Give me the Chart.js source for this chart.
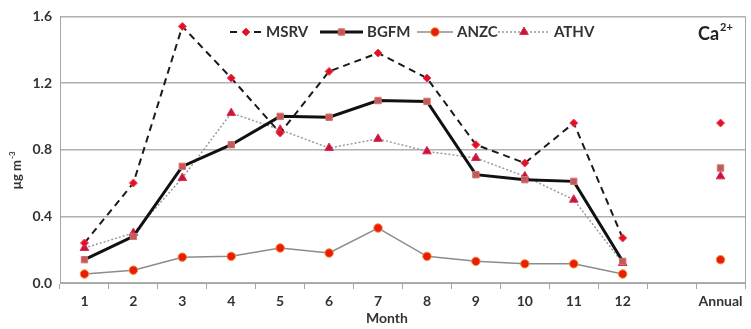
<!DOCTYPE html>
<html>
<head>
<meta charset="utf-8">
<script src="https://cdn.jsdelivr.net/npm/chart.js@4/dist/chart.umd.min.js"></script>
<style>
  html, body { margin: 0; padding: 0; background: #fff; }
  #wrap { width: 751px; height: 329px; }
</style>
</head>
<body>
<div id="wrap"><canvas id="chart" width="751" height="329"></canvas></div>
<script>
// categories (index 12 is an empty slot before "Annual")
const months = ['1', '2', '3', '4', '5', '6', '7', '8', '9', '10', '11', '12', '', 'Annual'];

// Ca2+ concentrations, µg m-3
const msrv = [0.24, 0.60, 1.54, 1.23, 0.90, 1.27, 1.38, 1.23, 0.83, 0.72, 0.96, 0.27, null, 0.96];
const bgfm = [0.14, 0.28, 0.70, 0.83, 1.00, 0.995, 1.095, 1.09, 0.65, 0.62, 0.61, 0.13, null, 0.69];
const anzc = [0.054, 0.077, 0.155, 0.16, 0.21, 0.18, 0.33, 0.16, 0.13, 0.115, 0.115, 0.054, null, 0.14];
const athv = [0.21, 0.30, 0.63, 1.02, 0.92, 0.81, 0.865, 0.79, 0.75, 0.64, 0.50, 0.12, null, 0.64];

const yTicks = [0, 0.4, 0.8, 1.2, 1.6];

const font = "Lato, 'Open Sans', sans-serif";
const textColor = '#333333';

// legend + labels drawn on top of the plot
const decor = {
    id: 'decor',
    afterDraw(chart) {
        const ctx = chart.ctx;
        const area = chart.chartArea;
        ctx.save();

        // right frame line
        ctx.strokeStyle = '#a6a6a6';
        ctx.lineWidth = 1;
        ctx.beginPath();
        ctx.moveTo(area.right + 0.5, area.top);
        ctx.lineTo(area.right + 0.5, area.bottom);
        ctx.stroke();

        // legend
        const y = 32;
        const items = [
            { ds: 0, x1: 230, x2: 262, label: 'MSRV' },
            { ds: 1, x1: 320, x2: 363, label: 'BGFM' },
            { ds: 2, x1: 417, x2: 453, label: 'ANZC' },
            { ds: 3, x1: 498, x2: 550, label: 'ATHV' }
        ];
        items.forEach(it => {
            const ds = chart.data.datasets[it.ds];
            ctx.strokeStyle = ds.borderColor;
            ctx.lineWidth = ds.borderWidth;
            ctx.setLineDash(ds.borderDash || []);
            ctx.beginPath();
            ctx.moveTo(it.x1, y);
            ctx.lineTo(it.x2, y);
            ctx.stroke();
            ctx.setLineDash([]);
            ctx.fillStyle = ds.pointBackgroundColor;
            ctx.strokeStyle = ds.pointBorderColor;
            ctx.lineWidth = ds.pointBorderWidth;
            Chart.helpers.drawPoint(ctx, {
                pointStyle: ds.pointStyle,
                radius: ds.pointRadius,
                rotation: 0,
                borderWidth: ds.pointBorderWidth
            }, (it.x1 + it.x2) / 2, y);
            ctx.fillStyle = textColor;
            ctx.font = 'bold 15px ' + font;
            ctx.textAlign = 'left';
            ctx.textBaseline = 'middle';
            ctx.fillText(it.label, it.x2 + 4, y);
        });

        // Ca2+ label
        ctx.fillStyle = '#222';
        ctx.textAlign = 'left';
        ctx.font = 'bold 18px ' + font;
        ctx.textBaseline = 'alphabetic';
        ctx.fillText('Ca', 698, 40);
        const wCa = ctx.measureText('Ca').width;
        ctx.font = 'bold 11px ' + font;
        ctx.fillText('2+', 698 + wCa + 1, 31);

        // y axis title
        ctx.translate(17, 171);
        ctx.rotate(-Math.PI / 2);
        ctx.fillStyle = textColor;
        ctx.textBaseline = 'middle';
        ctx.font = 'bold 13px ' + font;
        ctx.textAlign = 'left';
        const t1 = 'µg m';
        const w1 = ctx.measureText(t1).width;
        ctx.font = 'bold 8px ' + font;
        const w2 = ctx.measureText('-3').width;
        const start = -(w1 + w2) / 2;
        ctx.font = 'bold 13px ' + font;
        ctx.fillText(t1, start, 0);
        ctx.font = 'bold 8px ' + font;
        ctx.fillText('-3', start + w1 + 1, -5);

        // x axis title
        ctx.restore();
        ctx.save();
        ctx.fillStyle = textColor;
        ctx.font = 'bold 14px ' + font;
        ctx.textAlign = 'center';
        ctx.textBaseline = 'middle';
        ctx.fillText('Month', 387, 318);
        ctx.restore();
    }
};

const ctx = document.getElementById('chart').getContext('2d');
const chart = new Chart(ctx, {
    type: 'line',
    data: {
        labels: months,
        datasets: [
            {
                label: 'MSRV',
                data: msrv,
                borderColor: '#1a1a1a',
                borderWidth: 2,
                borderDash: [7, 5],
                pointStyle: 'rectRot',
                pointRadius: 4,
                pointBackgroundColor: '#e0102a',
                pointBorderColor: '#f04050',
                pointBorderWidth: 1
            },
            {
                label: 'BGFM',
                data: bgfm,
                borderColor: '#111111',
                borderWidth: 3,
                pointStyle: 'rect',
                pointRadius: 4.5,
                pointBackgroundColor: '#c25a5a',
                pointBorderColor: '#d47070',
                pointBorderWidth: 1
            },
            {
                label: 'ANZC',
                data: anzc,
                borderColor: '#8c8c8c',
                borderWidth: 1.5,
                pointStyle: 'circle',
                pointRadius: 4.2,
                pointBackgroundColor: '#e81c0c',
                pointBorderColor: '#f58a20',
                pointBorderWidth: 1
            },
            {
                label: 'ATHV',
                data: athv,
                borderColor: '#9a9a9a',
                borderWidth: 1.5,
                borderDash: [2, 2],
                pointStyle: 'triangle',
                pointRadius: 5,
                pointBackgroundColor: '#c8143c',
                pointBorderColor: '#d83050',
                pointBorderWidth: 1
            }
        ]
    },
    options: {
        responsive: false,
        animation: false,
        spanGaps: false,
        layout: { padding: { top: 14, right: 4, left: 0, bottom: 0 } },
        plugins: {
            legend: { display: false },
            tooltip: { enabled: false }
        },
        scales: {
            x: {
                offset: true,
                grid: {
                    offset: true,
                    drawOnChartArea: false,
                    drawTicks: true,
                    tickLength: 6,
                    color: '#a6a6a6'
                },
                border: { color: '#a6a6a6', width: 1 },
                ticks: {
                    color: textColor,
                    font: { family: font, size: 14, weight: 'bold' },
                    maxRotation: 0,
                    autoSkip: false,
                    padding: 4
                },
                afterFit(scale) { scale.height = 46; }
            },
            y: {
                min: 0,
                max: 1.6,
                afterBuildTicks(scale) { scale.ticks = yTicks.map(v => ({ value: v })); },
                grid: {
                    color: '#b0b0b0',
                    lineWidth: 1.5,
                    drawTicks: false
                },
                border: { color: '#a6a6a6', width: 1 },
                ticks: {
                    color: textColor,
                    font: { family: font, size: 14, weight: 'bold' },
                    padding: 8,
                    callback: v => Number(v).toFixed(1)
                },
                afterFit(scale) { scale.width = 60; }
            }
        }
    },
    plugins: [decor]
});
</script>
</body>
</html>
